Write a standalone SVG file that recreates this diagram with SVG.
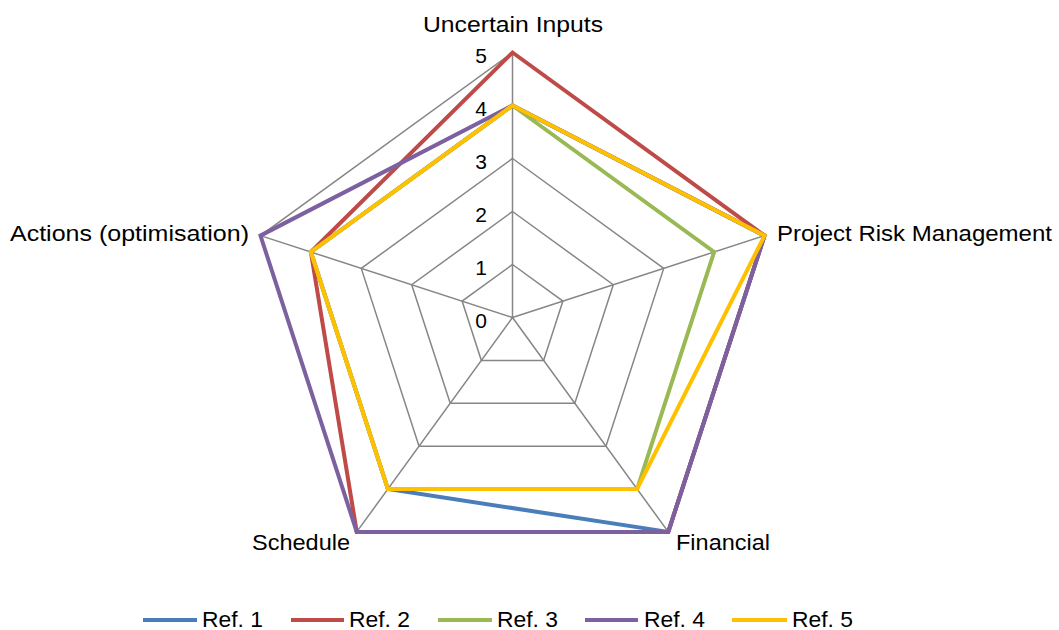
<svg xmlns="http://www.w3.org/2000/svg" width="1059" height="630" viewBox="0 0 1059 630">
  <style>
    text { font-family: "Liberation Sans", Arial, sans-serif; font-size: 22px; fill: #000; }
    .grid { fill: none; stroke: #868686; stroke-width: 1.5; }
    .series { fill: none; stroke-width: 4; stroke-linejoin: miter; }
    .tick { text-anchor: end; font-size: 21px; }
    .s1 { stroke: #4A7EBB; }
    .s2 { stroke: #BE4B48; }
    .s3 { stroke: #98B954; }
    .s4 { stroke: #7D60A0; }
    .s5 { stroke: #FFC000; }
  </style>
  <rect width="1059" height="630" fill="#fff"/>

  <!-- radar grid: rings 1..5 and spokes -->
  <g id="grid">
    <polygon class="grid" points="512.5,264.5 562.9,301.1 543.65,360.4 481.35,360.4 462.1,301.1"/>
    <polygon class="grid" points="512.5,211.5 613.3,284.74 574.8,403.26 450.2,403.26 411.7,284.74"/>
    <polygon class="grid" points="512.5,158.5 663.72,268.37 605.96,446.13 419.04,446.13 361.28,268.37"/>
    <polygon class="grid" points="512.5,105.5 714.12,252.0 637.11,489.01 387.89,489.01 310.88,252.0"/>
    <polygon class="grid" points="512.5,52.5 764.53,235.61 668.26,531.89 356.74,531.89 260.47,235.61"/>
    <path class="grid" d="M512.5,317.5 L512.5,52.5 M512.5,317.5 L764.53,235.61 M512.5,317.5 L668.26,531.89 M512.5,317.5 L356.74,531.89 M512.5,317.5 L260.47,235.61"/>
  </g>

  <!-- value axis labels -->
  <g id="axis-values">
    <text class="tick" x="487" y="327.5">0</text>
    <text class="tick" x="487" y="274.5">1</text>
    <text class="tick" x="487" y="221.5">2</text>
    <text class="tick" x="487" y="168.5">3</text>
    <text class="tick" x="487" y="115.5">4</text>
    <text class="tick" x="487" y="62.5">5</text>
  </g>

  <!-- category labels -->
  <g id="categories">
    <text id="cat-uncertain" x="423" y="32" textLength="180" lengthAdjust="spacingAndGlyphs">Uncertain Inputs</text>
    <text id="cat-prm" x="777" y="241" textLength="275" lengthAdjust="spacingAndGlyphs">Project Risk Management</text>
    <text id="cat-financial" x="676" y="550" textLength="94" lengthAdjust="spacingAndGlyphs">Financial</text>
    <text id="cat-schedule" x="252" y="550" textLength="98" lengthAdjust="spacingAndGlyphs">Schedule</text>
    <text id="cat-actions" x="10" y="241" textLength="239" lengthAdjust="spacingAndGlyphs">Actions (optimisation)</text>
  </g>

  <!-- data series -->
  <g id="series">
    <polygon id="ref1" class="series s1" points="512.5,105.5 764.53,235.61 668.26,531.89 387.89,489.01 310.88,252.0"/>
    <polygon id="ref2" class="series s2" points="512.5,52.5 764.53,235.61 668.26,531.89 356.74,531.89 310.88,252.0"/>
    <polygon id="ref3" class="series s3" points="512.5,105.5 714.12,252.0 637.11,489.01 387.89,489.01 310.88,252.0"/>
    <polygon id="ref4" class="series s4" points="512.5,105.5 764.53,235.61 668.26,531.89 356.74,531.89 260.47,235.61"/>
    <polygon id="ref5" class="series s5" points="512.5,105.5 764.53,235.61 637.11,489.01 387.89,489.01 310.88,252.0"/>
  </g>

  <!-- legend -->
  <g id="legend">
    <line class="series s1" x1="143" y1="620" x2="197" y2="620"/>
    <text x="202" y="627" textLength="61" lengthAdjust="spacingAndGlyphs">Ref. 1</text>
    <line class="series s2" x1="291" y1="620" x2="344" y2="620"/>
    <text x="349" y="627" textLength="61" lengthAdjust="spacingAndGlyphs">Ref. 2</text>
    <line class="series s3" x1="438" y1="620" x2="492" y2="620"/>
    <text x="497" y="627" textLength="61" lengthAdjust="spacingAndGlyphs">Ref. 3</text>
    <line class="series s4" x1="585" y1="620" x2="638" y2="620"/>
    <text x="644" y="627" textLength="61" lengthAdjust="spacingAndGlyphs">Ref. 4</text>
    <line class="series s5" x1="732" y1="620" x2="787" y2="620"/>
    <text x="792" y="627" textLength="61" lengthAdjust="spacingAndGlyphs">Ref. 5</text>
  </g>
</svg>
